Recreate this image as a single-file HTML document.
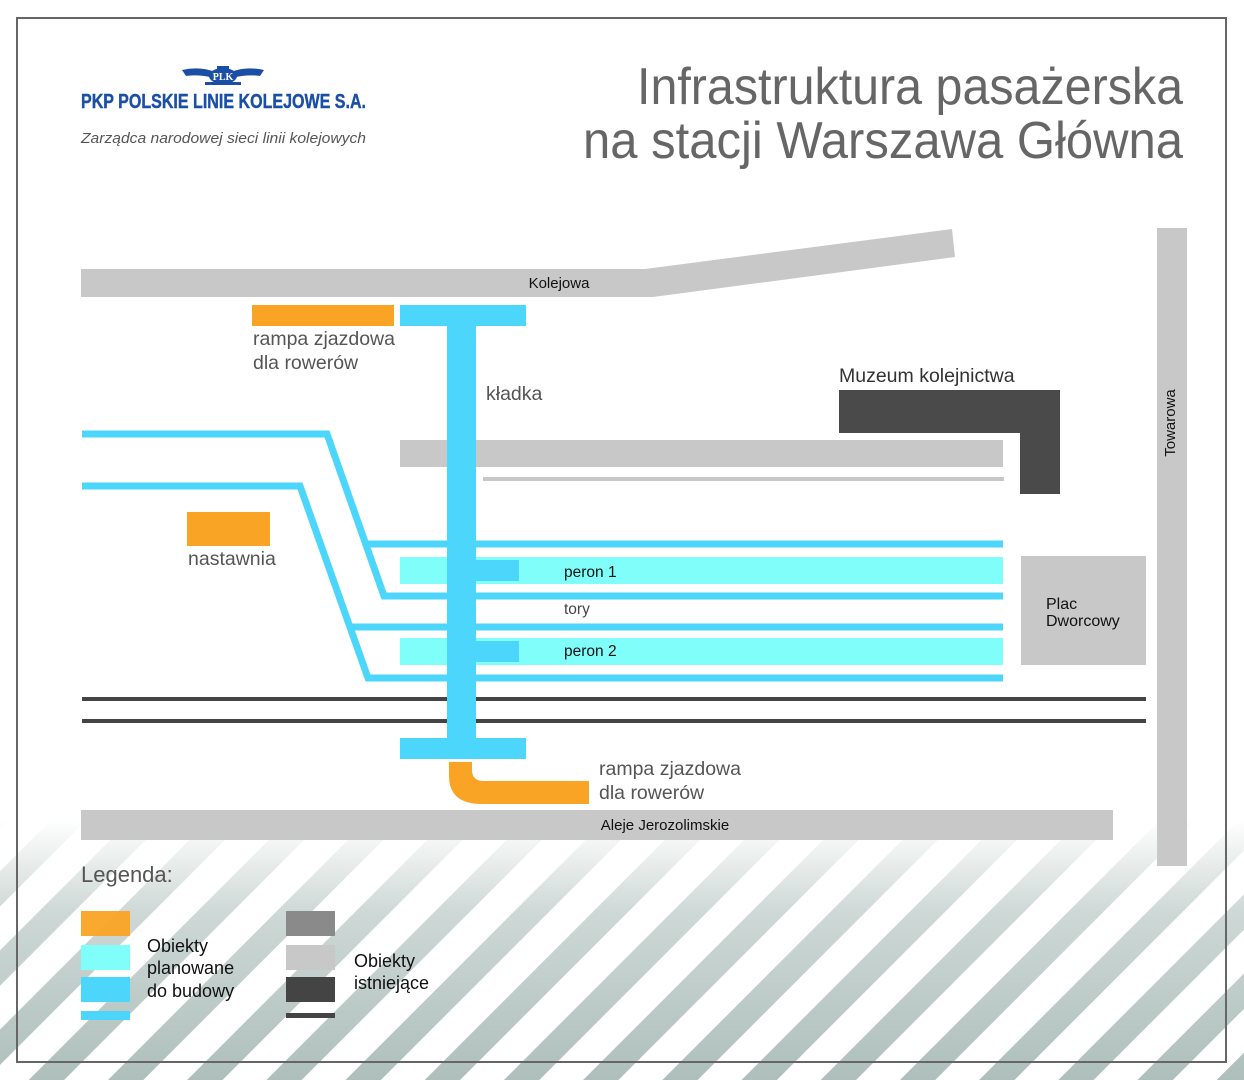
<!DOCTYPE html>
<html><head><meta charset="utf-8"><style>
html,body{margin:0;padding:0;background:#fff;}
svg{display:block;font-family:"Liberation Sans",sans-serif;}
</style></head><body>
<svg width="1244" height="1080" viewBox="0 0 1244 1080" xmlns="http://www.w3.org/2000/svg">
<defs>
<pattern id="st" patternUnits="userSpaceOnUse" width="56" height="56" patternTransform="rotate(45)">
<rect x="0" y="0" width="25" height="56" fill="#aebfbb"/>
</pattern>
<linearGradient id="fg" x1="0" y1="0" x2="0" y2="1">
<stop offset="0" stop-color="#fff" stop-opacity="0"/>
<stop offset="0.35" stop-color="#fff" stop-opacity="0.6"/>
<stop offset="1" stop-color="#fff" stop-opacity="1"/>
</linearGradient>
<mask id="mk"><rect x="0" y="820" width="1244" height="260" fill="url(#fg)"/></mask>
</defs>
<rect width="1244" height="1080" fill="#fff"/>
<rect x="0" y="820" width="1244" height="260" fill="url(#st)" mask="url(#mk)"/>
<rect x="17" y="18" width="1209" height="1044" fill="none" stroke="#666" stroke-width="2"/>

<!-- logo -->
<g fill="#1b4ea5">
<path d="M182,70 Q200,66 215,72 L215,78 Q198,74 186,76 Z"/>
<path d="M264,70 Q246,66 231,72 L231,78 Q248,74 260,76 Z"/>
<rect x="217" y="66" width="12" height="4"/>
<ellipse cx="223" cy="76" rx="14" ry="8"/>
<rect x="205" y="82" width="36" height="3"/>
</g>
<text x="223" y="80" font-family="Liberation Serif,serif" font-weight="bold" font-size="10" fill="#fff" text-anchor="middle">PLK</text>
<text x="81" y="108" font-weight="bold" font-size="20" fill="#1b4ea5" textLength="285" lengthAdjust="spacingAndGlyphs" stroke="#1b4ea5" stroke-width="0.4">PKP POLSKIE LINIE KOLEJOWE S.A.</text>
<text x="81" y="143" font-style="italic" font-size="15" fill="#555" textLength="285" lengthAdjust="spacingAndGlyphs">Zarządca narodowej sieci linii kolejowych</text>

<!-- title -->
<text x="1183" y="104" text-anchor="end" font-size="52" fill="#666" textLength="546" lengthAdjust="spacingAndGlyphs">Infrastruktura pasażerska</text>
<text x="1183" y="158" text-anchor="end" font-size="52" fill="#666" textLength="600" lengthAdjust="spacingAndGlyphs">na stacji Warszawa Główna</text>

<!-- roads -->
<rect x="81" y="269" width="572" height="28" fill="#c8c8c8"/>
<polygon points="645,269 952,229 955,257 653,297" fill="#c8c8c8"/>
<text x="559" y="288" font-size="15" fill="#111" text-anchor="middle">Kolejowa</text>
<rect x="1157" y="228" width="30" height="638" fill="#c8c8c8"/>
<text transform="translate(1175,423) rotate(-90)" font-size="15" fill="#111" text-anchor="middle">Towarowa</text>
<rect x="81" y="810" width="1032" height="30" fill="#c8c8c8"/>
<text x="665" y="830" font-size="15" fill="#111" text-anchor="middle">Aleje Jerozolimskie</text>

<!-- top rampa -->
<rect x="252" y="305" width="142" height="21" fill="#f9a425"/>
<text x="253" y="345" font-size="19.5" fill="#555">rampa zjazdowa</text>
<text x="253" y="369" font-size="19.5" fill="#555">dla rowerów</text>

<!-- muzeum -->
<polygon points="839,390 1060,390 1060,494 1020,494 1020,433 839,433" fill="#4a4a4a"/>
<text x="839" y="382" font-size="19.5" fill="#333">Muzeum kolejnictwa</text>

<!-- existing platform -->
<rect x="400" y="440" width="603" height="27" fill="#c8c8c8"/>
<rect x="483" y="477" width="521" height="4" fill="#c8c8c8"/>

<!-- blue tracks -->
<g fill="none" stroke="#4dd6fb" stroke-width="7">
<polyline points="82,434 327,434 384,596 1003,596"/>
<polyline points="82,486 300,486 368,678 1003,678"/>
<line x1="366" y1="544" x2="1003" y2="544"/>
<line x1="350" y1="627" x2="1003" y2="627"/>
</g>
<rect x="400" y="557" width="603" height="27" fill="#80fefa"/>
<rect x="400" y="638" width="603" height="27" fill="#80fefa"/>
<rect x="475" y="560" width="44" height="21" fill="#4dd6fb"/>
<rect x="475" y="641" width="44" height="21" fill="#4dd6fb"/>
<text x="564" y="577" font-size="15.5" fill="#111">peron 1</text>
<text x="564" y="614" font-size="15.5" fill="#444">tory</text>
<text x="564" y="656" font-size="15.5" fill="#111">peron 2</text>

<!-- rails -->
<rect x="82" y="697" width="1064" height="4" fill="#444"/>
<rect x="82" y="719" width="1064" height="4" fill="#444"/>

<!-- nastawnia -->
<rect x="187" y="512" width="83" height="34" fill="#f9a425"/>
<text x="188" y="565" font-size="19.5" fill="#555">nastawnia</text>

<!-- plac -->
<rect x="1021" y="556" width="125" height="109" fill="#c8c8c8"/>
<text x="1046" y="609" font-size="16" fill="#111">Plac</text>
<text x="1046" y="626" font-size="16" fill="#111">Dworcowy</text>

<!-- kladka -->
<rect x="400" y="305" width="126" height="21" fill="#4dd6fb"/>
<rect x="447" y="305" width="29" height="453" fill="#4dd6fb"/>
<rect x="400" y="738" width="126" height="21" fill="#4dd6fb"/>
<text x="486" y="400" font-size="19.5" fill="#555">kładka</text>

<!-- bottom rampa -->
<path d="M449,762 H472 V770 Q472,781 484,781 H589 V804 H482 Q449,804 449,776 Z" fill="#f9a425"/>
<text x="599" y="775" font-size="19.5" fill="#555">rampa zjazdowa</text>
<text x="599" y="799" font-size="19.5" fill="#555">dla rowerów</text>

<!-- legend -->
<text x="81" y="882" font-size="22" fill="#555">Legenda:</text>
<rect x="81" y="911" width="49" height="25" fill="#f9a425" opacity="0.95"/>
<rect x="81" y="945" width="49" height="25" fill="#80fefa"/>
<rect x="81" y="977" width="49" height="25" fill="#4dd6fb"/>
<rect x="81" y="1011" width="49" height="9" fill="#4dd6fb"/>
<text x="147" y="952" font-size="18" fill="#111">Obiekty</text>
<text x="147" y="974" font-size="18" fill="#111">planowane</text>
<text x="147" y="997" font-size="18" fill="#111">do budowy</text>
<rect x="286" y="911" width="49" height="25" fill="#8a8a8a"/>
<rect x="286" y="945" width="49" height="25" fill="#c8c8c8"/>
<rect x="286" y="977" width="49" height="25" fill="#444"/>
<rect x="286" y="1013" width="49" height="5" fill="#444"/>
<text x="354" y="967" font-size="18" fill="#111">Obiekty</text>
<text x="354" y="989" font-size="18" fill="#111">istniejące</text>
</svg>
</body></html>
